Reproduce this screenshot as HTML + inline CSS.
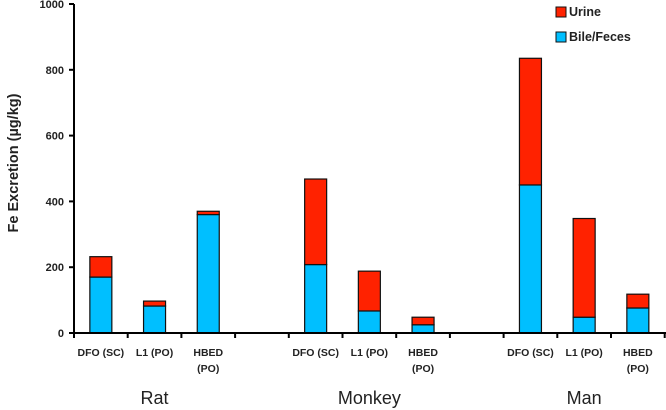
<!DOCTYPE html>
<html><head><meta charset="utf-8"><style>
body{margin:0;background:#fff;}
svg{display:block;font-family:"Liberation Sans",sans-serif;}
</style></head><body>
<svg id="chart" width="666" height="410"></svg>
<script>
const categories=["DFO (SC)","L1 (PO)","HBED|(PO)","","DFO (SC)","L1 (PO)","HBED|(PO)","","DFO (SC)","L1 (PO)","HBED|(PO)"];
const bileValues=[170,82,360,null,208,67,25,null,450,48,76];
const urineValues=[62,15,10,null,260,121,23,null,385,300,42];
const yTicks=[0,200,400,600,800,1000];
const groups=[["Rat",1],["Monkey",5],["Man",9]];
const NS="http://www.w3.org/2000/svg";
const svg=document.getElementById('chart');
const x0=74,slot=53.7,y0=333,yTop=4,bw=22;
const y=v=>y0-(v/1000)*(y0-yTop);
const xc=i=>x0+slot*(i+0.5);
function mk(t,a,txt){const e=document.createElementNS(NS,t);for(const k in a)e.setAttribute(k,a[k]);if(txt!=null)e.textContent=txt;svg.appendChild(e);return e;}
let e=mk('line',{x1:x0,y1:y0,x2:x0,y2:yTop,stroke:'#000','stroke-width':2});


yTicks.forEach(t=>{
 let l=mk('line',{x1:x0-5,y1:y(t),x2:x0,y2:y(t),stroke:'#000','stroke-width':2});
 
 
 let tx=mk('text',{x:x0-10,y:y(t)+4,'text-anchor':'end','font-size':11,'font-weight':'bold',fill:'#222'},t);
 
 
});
e=mk('text',{x:0,y:0,transform:'translate(18,163) rotate(-90)','text-anchor':'middle','font-size':14.5,'font-weight':'bold',fill:'#222'},'Fe Excretion (µg/kg)');


categories.forEach((c,i)=>{
 if(bileValues[i]!=null){
  let b=mk('rect',{x:xc(i)-bw/2,y:y(bileValues[i]),width:bw,height:y0-y(bileValues[i]),fill:'#00bfff',stroke:'#111','stroke-width':1.2});
  
  
  let top=bileValues[i]+urineValues[i];
  let u=mk('rect',{x:xc(i)-bw/2,y:y(top),width:bw,height:y(bileValues[i])-y(top),fill:'#ff2200',stroke:'#111','stroke-width':1.2});
  
  
 }
 const lines=c.split('|');
 lines.forEach((s,k)=>{if(!s)return;
  let t=mk('text',{x:xc(i),y:356+k*16,'text-anchor':'middle','font-size':10.5,'font-weight':'bold',fill:'#222'},s);
  
  
 });
});
e=mk('line',{x1:x0,y1:y0,x2:666,y2:y0,stroke:'#000','stroke-width':2});


for(let i=0;i<=11;i++){
 let l=mk('line',{x1:x0+slot*i,y1:y0,x2:x0+slot*i,y2:y0+5,stroke:'#000','stroke-width':2});
 
 
}
groups.forEach(g=>{
 let t=mk('text',{x:xc(g[1]),y:404,'text-anchor':'middle','font-size':18,fill:'#222'},g[0]);
 
 
});
[['Urine','#ff2200',11],['Bile/Feces','#00bfff',36]].forEach(L=>{
 let r=mk('rect',{x:556,y:L[2]-4,width:10,height:10,fill:L[1],stroke:'#111','stroke-width':1});
 
 
 let t=mk('text',{x:569,y:L[2]+5,'font-size':12.5,'font-weight':'bold',fill:'#222'},L[0]);
 
 
});
</script>
</body></html>
